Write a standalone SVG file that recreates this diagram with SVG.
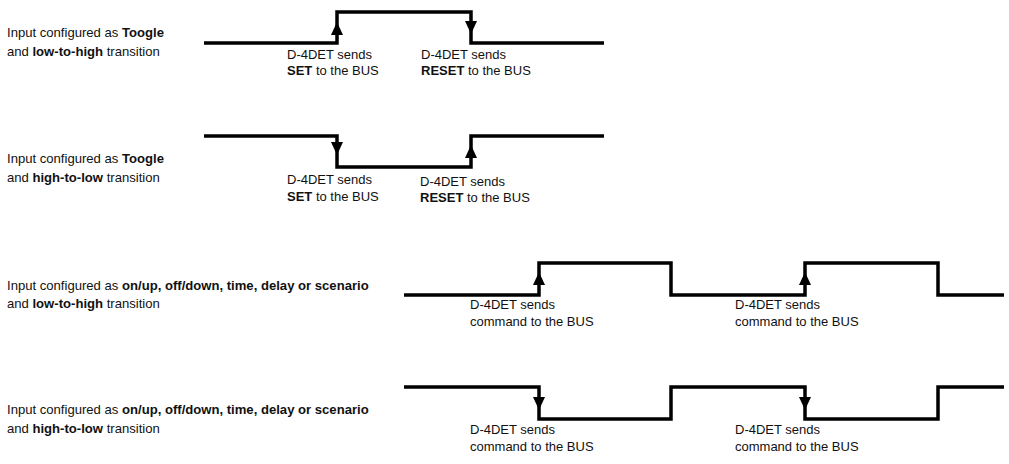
<svg xmlns="http://www.w3.org/2000/svg" width="1009" height="464" viewBox="0 0 1009 464">
<style>
text{font-family:"Liberation Sans",Arial,sans-serif;font-size:13px;fill:#111}
.l{font-size:13.1px}
.b{font-weight:bold}
.w{fill:none;stroke:#000;stroke-width:3.5}
.ah{fill:#000}
</style>
<rect width="1009" height="464" fill="#fff"/>
<g id="labels">
<text class="l" x="7" y="37">Input configured as <tspan class="b">Toogle</tspan></text>
<text class="l" x="7" y="56">and <tspan class="b">low-to-high</tspan> transition</text>
<text class="l" x="7" y="163">Input configured as <tspan class="b">Toogle</tspan></text>
<text class="l" x="7" y="182">and <tspan class="b">high-to-low</tspan> transition</text>
<text class="l" x="7" y="290">Input configured as <tspan class="b">on/up, off/down, time, delay or scenario</tspan></text>
<text class="l" x="7" y="308">and <tspan class="b">low-to-high</tspan> transition</text>
<text class="l" x="7" y="414">Input configured as <tspan class="b">on/up, off/down, time, delay or scenario</tspan></text>
<text class="l" x="7" y="433">and <tspan class="b">high-to-low</tspan> transition</text>
</g>
<g id="connectors">
<polyline class="w" points="204,43 337,43 337,12 471,12 471,43 604,43"/>
<polyline class="w" points="204,136 337,136 337,167 471,167 471,136 604,136"/>
<polyline class="w" points="404,295 539,295 539,263 671,263 671,295 805,295 805,263 938,263 938,295 1004,295"/>
<polyline class="w" points="404,387 539,387 539,419 671,419 671,387 805,387 805,419 938,419 938,387 1004,387"/>
<polygon class="ah" points="337,22 331,35 343,35"/>
<polygon class="ah" points="471,34 465,21 477,21"/>
<polygon class="ah" points="337,155 331,142 343,142"/>
<polygon class="ah" points="471,145 465,158 477,158"/>
<polygon class="ah" points="539,272 533,285 545,285"/>
<polygon class="ah" points="805,272 799,285 811,285"/>
<polygon class="ah" points="539,410 533,397 545,397"/>
<polygon class="ah" points="805,410 799,397 811,397"/>
</g>
<g id="n1"><text x="287" y="59">D-4DET sends</text><text x="287" y="75"><tspan class="b">SET</tspan> to the BUS</text></g>
<g id="n2"><text x="421" y="59">D-4DET sends</text><text x="421" y="75"><tspan class="b">RESET</tspan> to the BUS</text></g>
<g id="n3"><text x="287" y="184">D-4DET sends</text><text x="287" y="201"><tspan class="b">SET</tspan> to the BUS</text></g>
<g id="n4"><text x="420" y="186">D-4DET sends</text><text x="420" y="202"><tspan class="b">RESET</tspan> to the BUS</text></g>
<g id="n5"><text x="470" y="309">D-4DET sends</text><text x="470" y="326">command to the BUS</text></g>
<g id="n6"><text x="735" y="309">D-4DET sends</text><text x="735" y="326">command to the BUS</text></g>
<g id="n7"><text x="470" y="434">D-4DET sends</text><text x="470" y="451">command to the BUS</text></g>
<g id="n8"><text x="735" y="434">D-4DET sends</text><text x="735" y="451">command to the BUS</text></g>
</svg>
